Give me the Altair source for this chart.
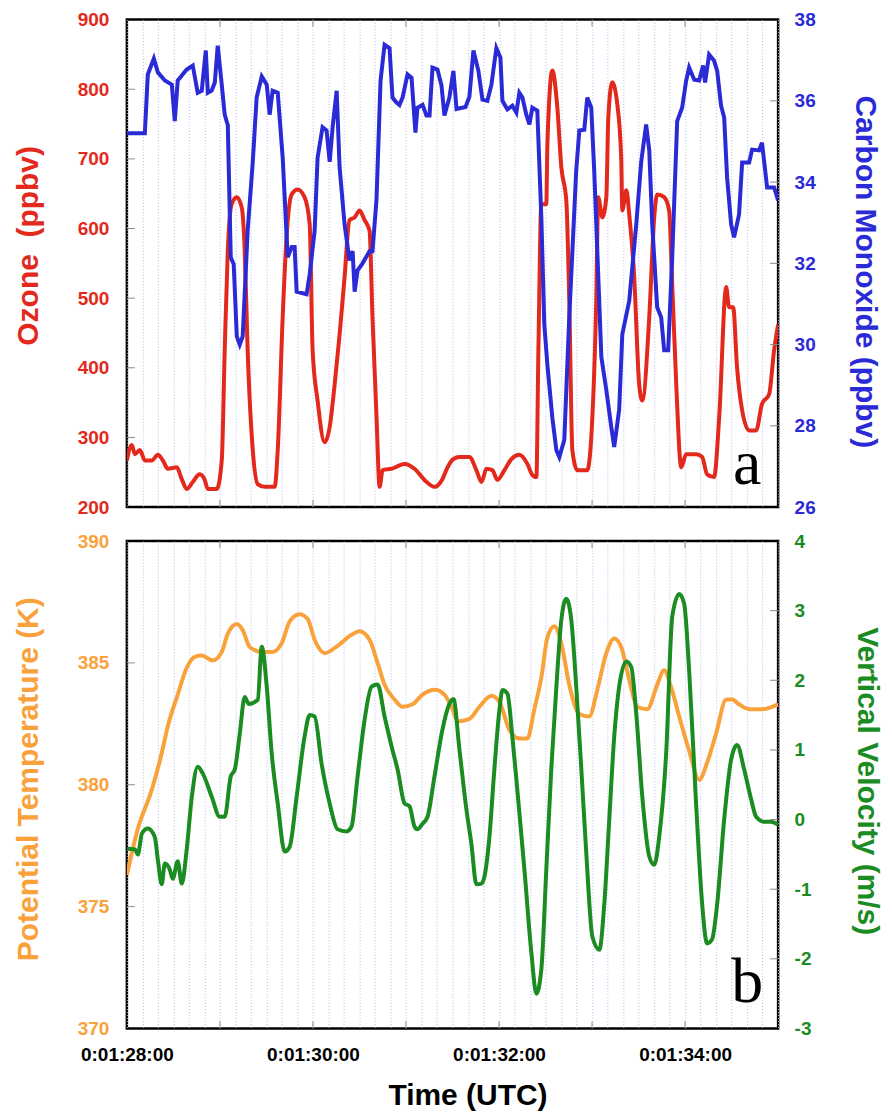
import altair as alt
import pandas as pd

# ---- data (time in seconds after 0:01:28:00) ----
ozone = [(0, 267), (3.2, 289), (5.2, 276), (8.4, 282), (11.6, 267), (16.1, 267), (20.0, 275), (23.2, 267),
         (26.4, 255), (32.2, 257), (35.4, 240), (38.6, 226), (42.5, 236), (47.0, 247), (50.2, 239), (52.2, 226),
         (58.0, 226), (61.2, 267), (63.1, 425), (65.1, 569), (67.6, 635), (70.9, 645), (74.1, 630), (76.0, 569),
         (77.9, 425), (81.2, 282), (84.4, 233), (88.9, 229), (95.3, 229), (97.3, 282), (100.5, 473), (103.1, 592),
         (106.3, 649), (110.1, 656), (114.6, 645), (117.9, 606), (119.8, 425), (123.0, 353), (127.5, 293),
         (130.8, 315), (134.0, 376), (137.2, 448), (140.4, 530), (143.6, 612), (146.9, 616), (150.1, 626),
         (153.3, 612), (156.5, 597), (158.4, 473), (161.0, 329), (163.0, 229), (164.9, 253), (170.7, 255),
         (179.1, 262), (185.5, 255), (191.9, 239), (198.4, 229), (203.5, 240), (206.8, 257), (210.6, 269),
         (214.5, 272), (220.9, 272), (225.4, 253), (228.7, 236), (231.9, 255), (235.7, 253), (239.0, 239),
         (243.5, 253), (248.0, 269), (253.1, 275), (258.3, 262), (261.5, 246), (264.1, 243), (265.4, 425),
         (267.3, 635), (270.5, 635), (271.2, 721), (274.4, 827), (277.6, 774), (280.2, 688), (283.4, 640),
         (285.3, 497), (287.3, 282), (290.5, 253), (296.9, 253), (300.2, 329), (302.7, 497), (304.0, 645),
         (306.6, 616), (309.2, 645), (310.5, 760), (313.0, 810), (316.3, 778), (318.8, 702), (319.5, 626),
         (322.1, 655), (324.0, 620), (327.2, 530), (330.4, 376), (332.4, 353), (336.9, 473), (340.1, 616),
         (342.0, 649), (346.5, 645), (349.7, 626), (351.7, 520), (354.3, 376), (357.5, 257), (360.7, 276),
         (367.1, 276), (371.0, 272), (374.2, 247), (378.7, 243), (382.0, 329), (386.5, 516), (388.4, 487),
         (391.0, 487), (393.5, 401), (396.8, 339), (401.3, 310), (405.8, 310), (409.6, 348), (414.2, 362),
         (417.4, 425), (420.0, 462)]

carbon_monoxide = [(0, 35.2), (11.6, 35.2), (13.5, 36.65), (17.4, 37.04), (20.0, 36.7), (24.5, 36.5), (29.0, 36.4),
                   (30.9, 35.5), (32.8, 36.5), (38.6, 36.77), (42.5, 36.87), (45.7, 36.2), (48.3, 36.25),
                   (50.9, 37.24), (52.2, 36.2), (54.7, 36.25), (56.7, 36.45), (58.6, 37.36), (61.2, 36.4),
                   (63.1, 35.66), (65.1, 35.4), (67.0, 32.15), (68.9, 31.98), (70.9, 30.2), (72.8, 30.0),
                   (74.7, 30.2), (77.9, 32.8), (81.2, 34.5), (83.7, 36.08), (87.0, 36.6), (90.2, 36.4),
                   (92.1, 35.66), (94.0, 36.25), (97.3, 36.2), (100.5, 34.6), (103.7, 32.15), (106.3, 32.4),
                   (108.2, 32.4), (109.5, 31.3), (115.9, 31.24), (117.9, 31.73), (121.1, 32.8), (123.0, 34.6),
                   (126.2, 35.35), (128.8, 35.27), (130.8, 34.5), (132.7, 35.35), (135.3, 36.25), (137.2, 34.36),
                   (140.4, 32.96), (143.6, 32.07), (145.6, 32.3), (146.9, 31.3), (148.8, 31.83), (152.0, 32.0),
                   (156.5, 32.3), (158.4, 32.3), (161.0, 33.57), (163.6, 36.5), (166.2, 37.38), (169.4, 37.3),
                   (171.3, 36.08), (173.9, 35.96), (175.8, 35.9), (177.8, 36.08), (181.0, 36.65), (183.6, 36.57),
                   (186.1, 35.22), (187.4, 35.83), (190.7, 35.9), (193.2, 35.64), (195.2, 35.64), (197.1, 36.82),
                   (200.3, 36.77), (202.9, 36.38), (204.8, 35.64), (208.0, 36.08), (210.6, 36.74), (212.6, 35.8),
                   (218.4, 35.85), (220.9, 36.1), (223.5, 37.24), (226.7, 36.74), (229.3, 36.03), (232.5, 36.0),
                   (235.1, 36.4), (238.3, 37.3), (240.9, 37.07), (242.2, 36.0), (245.4, 35.79), (248.6, 35.88),
                   (251.2, 35.71), (253.1, 36.2), (255.1, 36.08), (257.6, 35.66), (259.6, 35.42), (261.5, 35.83),
                   (264.7, 35.76), (267.3, 33.13), (269.2, 30.5), (271.2, 29.5), (274.4, 28.2), (277.0, 27.4),
                   (278.9, 27.23), (282.1, 27.65), (285.3, 30.67), (289.8, 34.29), (291.8, 35.27), (295.0, 35.29),
                   (296.9, 36.08), (299.5, 35.83), (301.4, 34.29), (306.0, 29.69), (309.2, 28.88), (312.4, 27.97),
                   (314.3, 27.48), (317.5, 28.4), (319.5, 30.25), (324.0, 31.08), (328.5, 32.96), (331.7, 34.5),
                   (334.9, 35.42), (336.9, 34.78), (338.8, 32.96), (342.0, 30.92), (344.6, 30.67), (346.5, 29.86),
                   (349.1, 29.86), (351.7, 32.15), (354.9, 35.5), (358.1, 35.83), (360.7, 36.5), (362.6, 36.82),
                   (365.9, 36.52), (369.1, 36.5), (371.6, 36.87), (372.9, 36.45), (375.5, 37.14), (378.7, 36.99),
                   (380.7, 36.74), (383.2, 35.88), (385.2, 35.59), (387.1, 34.11), (389.7, 32.96), (391.6, 32.64),
                   (394.8, 33.2), (396.8, 34.48), (401.3, 34.48), (403.2, 34.8), (407.7, 34.78), (409.6, 34.97),
                   (412.9, 33.87), (417.4, 33.87), (420.0, 33.55)]

potential_temperature = [(0, 376.3), (7.1, 378.2), (16.1, 379.8), (22.5, 381.3), (26.4, 382.4), (32.8, 383.7),
                         (38.6, 384.8), (43.8, 385.25), (48.3, 385.3), (55.4, 385.1), (61.2, 385.45), (65.1, 386.2),
                         (70.9, 386.6), (74.7, 386.35), (79.2, 385.65), (87.0, 385.45), (94.0, 385.45),
                         (99.8, 385.8), (105.0, 386.7), (111.4, 387.0), (116.6, 386.8), (121.1, 385.95),
                         (127.5, 385.4), (135.9, 385.7), (144.9, 386.15), (150.1, 386.3), (156.5, 385.95),
                         (161.7, 385.0), (166.2, 384.1), (172.6, 383.5), (177.8, 383.2), (184.2, 383.3),
                         (190.7, 383.7), (198.4, 383.9), (204.8, 383.7), (210.0, 383.1), (213.2, 382.6),
                         (220.9, 382.7), (227.4, 383.2), (235.1, 383.65), (240.3, 383.4), (246.7, 382.25),
                         (253.1, 381.9), (258.3, 381.9), (262.8, 383.1), (267.3, 384.4), (271.2, 386.05),
                         (275.7, 386.5), (280.2, 385.8), (285.3, 384.1), (291.8, 382.9), (298.2, 382.8),
                         (303.4, 383.9), (309.2, 385.4), (314.3, 386.0), (318.8, 385.65), (324.0, 384.3),
                         (329.1, 383.2), (335.6, 383.1), (342.0, 384.1), (346.5, 384.7), (351.0, 384.0),
                         (356.2, 382.8), (362.6, 381.4), (369.1, 380.2), (374.2, 380.9), (380.0, 382.1),
                         (386.5, 383.5), (390.3, 383.5), (394.8, 383.3), (401.3, 383.1), (409.6, 383.1),
                         (420.0, 383.3)]

vertical_velocity = [(0, -0.42), (5.2, -0.43), (7.1, -0.5), (9.7, -0.2), (13.5, -0.13), (18.0, -0.25), (20.0, -0.58),
                     (22.5, -0.93), (24.5, -0.63), (27.7, -0.72), (29.6, -0.85), (32.8, -0.6), (35.4, -0.92),
                     (38.6, -0.43), (41.9, 0.33), (45.7, 0.76), (49.0, 0.66), (54.7, 0.33), (59.9, 0.04),
                     (63.1, 0.04), (67.0, 0.62), (69.6, 0.72), (72.8, 1.23), (76.0, 1.76), (78.6, 1.66),
                     (84.4, 1.72), (87.0, 2.48), (90.2, 1.91), (93.4, 0.95), (97.3, 0.23), (101.8, -0.46),
                     (105.0, -0.39), (109.5, 0.33), (114.6, 1.19), (117.9, 1.5), (121.1, 1.48), (125.6, 0.8),
                     (130.8, 0.23), (135.9, -0.14), (141.7, -0.17), (144.9, -0.1), (148.8, 0.62), (153.3, 1.43),
                     (157.8, 1.91), (161.7, 1.94), (166.2, 1.48), (171.3, 1.0), (174.6, 0.72), (179.1, 0.23),
                     (182.3, 0.19), (185.5, -0.1), (187.4, -0.14), (190.7, -0.06), (193.9, 0.04), (198.4, 0.62),
                     (203.5, 1.29), (208.0, 1.66), (210.6, 1.73), (214.5, 1.0), (219.0, 0.14), (222.2, -0.35),
                     (225.4, -0.93), (228.7, -0.92), (230.6, -0.82), (233.8, -0.25), (237.0, 0.72), (240.3, 1.58),
                     (242.2, 1.86), (245.4, 1.81), (248.6, 1.19), (251.8, 0.43), (256.4, -0.72), (260.9, -1.92),
                     (264.1, -2.5), (267.3, -2.15), (270.5, -0.72), (273.7, 0.72), (277.0, 1.91), (280.2, 2.87),
                     (283.4, 3.17), (286.6, 2.87), (289.8, 1.91), (293.1, 0.72), (296.3, -0.49), (300.2, -1.68),
                     (304.7, -1.87), (307.9, -1.21), (311.1, 0.0), (314.3, 1.19), (317.5, 1.91), (322.1, 2.27),
                     (325.3, 2.19), (328.5, 1.52), (332.4, 0.33), (336.9, -0.53), (340.1, -0.65), (343.3, -0.25),
                     (347.8, 0.95), (351.7, 2.91), (356.2, 3.24), (359.4, 3.1), (362.6, 2.15), (367.1, 0.23),
                     (371.0, -1.21), (374.2, -1.78), (377.4, -1.72), (380.7, -1.21), (385.2, 0.0), (389.7, 0.86),
                     (393.5, 1.07), (398.1, 0.72), (402.6, 0.29), (405.8, 0.04), (410.9, -0.03), (415.4, -0.03),
                     (420.0, -0.07)]

x_grid_seconds = list(range(0, 421, 10))
x_label_seconds = [0, 120, 240, 360]
x_labels = ["0:01:28:00", "0:01:30:00", "0:01:32:00", "0:01:34:00"]
minute_ticks = [60, 120, 180, 240, 300, 360]

ozone_ticks = [200, 300, 400, 500, 600, 700, 800, 900]
co_ticks = [26, 28, 30, 32, 34, 36, 38]
theta_ticks = [370, 375, 380, 385, 390]
w_ticks = [-3, -2, -1, 0, 1, 2, 3, 4]

panel_a = [(400, 233, "a")]
panel_b = [(400, 371.1, "b")]

# ---- styling ----
W, H = 652, 488
RED, BLUE, ORANGE, GREEN = "#e2291c", "#2a2ad6", "#f9a23c", "#1b8c22"
FONT = "Liberation Sans"
XSCALE = alt.Scale(domain=[0, 420], nice=False, zero=False)


def frame(pairs):
    return pd.DataFrame(pairs, columns=["t", "v"])


def label_expr():
    parts = [f"datum.value == {v} ? '{l}'" for v, l in zip(x_label_seconds, x_labels)]
    return " : ".join(parts) + " : ''"


def x_axis(show_labels):
    common = dict(values=x_grid_seconds, grid=True, gridColor="#b9b9f2", gridDash=[1, 2], gridWidth=1,
                  ticks=False, domain=False, labelOverlap=False, labelFlush=False)
    if show_labels:
        return alt.Axis(labels=True, labelExpr=label_expr(), labelFont=FONT, labelFontSize=19,
                        labelFontWeight="bold", labelColor="black", labelPadding=17,
                        title="Time (UTC)", titleFont=FONT, titleFontSize=30, titleFontWeight="bold",
                        titleColor="black", titlePadding=16, titleX=341, **common)
    return alt.Axis(labels=False, title="", **common)


def y_axis(orient, ticks, color, title, label_pad, title_pad, title_y):
    return alt.Axis(orient=orient, values=ticks, ticks=False, domain=False, grid=False,
                    labelFont=FONT, labelFontSize=19, labelFontWeight="bold", labelColor=color,
                    labelPadding=label_pad, labelFlush=False, labelOverlap=False,
                    labelExpr="'' + datum.value",
                    title=title, titleFont=FONT, titleFontSize=30, titleFontWeight="bold",
                    titleColor=color, titlePadding=title_pad, titleY=title_y)


def panel(left_data, left_ticks, left_color, left_title, left_interp, left_ty,
          right_data, right_ticks, right_color, right_title, right_interp, right_tpad, right_ty,
          letter_item, show_x_labels):
    lscale = alt.Scale(domain=[left_ticks[0], left_ticks[-1]], nice=False, zero=False)
    rscale = alt.Scale(domain=[right_ticks[0], right_ticks[-1]], nice=False, zero=False)
    xax = x_axis(show_x_labels)
    lax = y_axis("left", left_ticks, left_color, left_title, 18, 34, left_ty)
    rax = y_axis("right", right_ticks, right_color, right_title, 16, right_tpad, right_ty)

    def X():
        return alt.X("t:Q", scale=XSCALE, axis=xax)

    def YL():
        return alt.Y("v:Q", scale=lscale, axis=lax)

    def YR():
        return alt.Y("v:Q", scale=rscale, axis=rax)

    left_line = alt.Chart(frame(left_data)).mark_line(
        color=left_color, strokeWidth=4, interpolate=left_interp, clip=True).encode(x=X(), y=YL())
    right_line = alt.Chart(frame(right_data)).mark_line(
        color=right_color, strokeWidth=4, interpolate=right_interp, clip=True).encode(x=X(), y=YR())

    lt = alt.Chart(pd.DataFrame({"v": left_ticks[1:-1]})).mark_rule(color="#888888", strokeWidth=1).encode(
        y=YL(), x=alt.value(0), x2=alt.value(8))
    rt = alt.Chart(pd.DataFrame({"v": right_ticks[1:-1]})).mark_rule(color="#888888", strokeWidth=1).encode(
        y=YR(), x=alt.value(W - 8), x2=alt.value(W))
    mdf = pd.DataFrame({"t": minute_ticks})
    mt_top = alt.Chart(mdf).mark_rule(color="#888888", strokeWidth=1).encode(
        x=X(), y=alt.value(0), y2=alt.value(7))
    mt_bot = alt.Chart(mdf).mark_rule(color="#888888", strokeWidth=1).encode(
        x=X(), y=alt.value(H - 7), y2=alt.value(H))
    let = alt.Chart(pd.DataFrame(letter_item, columns=["t", "v", "s"])).mark_text(
        font="Liberation Serif", fontSize=64, align="center", baseline="alphabetic", color="black").encode(
        x=X(), y=YL(), text="s:N")

    left_layer = alt.layer(left_line, lt, mt_top, mt_bot, let)
    right_layer = alt.layer(right_line, rt)
    return alt.layer(left_layer, right_layer).resolve_scale(y="independent").properties(width=W, height=H)


top = panel(ozone, ozone_ticks, RED, "Ozone\u00a0 (ppbv)", "monotone", 226,
            carbon_monoxide, co_ticks, BLUE, "Carbon Monoxide (ppbv)", "linear", 34, 252,
            panel_a, False)
bottom = panel(potential_temperature, theta_ticks, ORANGE, "Potential Temperature (K)", "monotone", 238,
               vertical_velocity, w_ticks, GREEN, "Vertical Velocity (m/s)", "monotone", 41, 240,
               panel_b, True)

chart = alt.vconcat(top, bottom, spacing=11).properties(
    padding={"left": 4, "top": 0, "right": 0, "bottom": 0}
).configure_view(stroke="black", strokeWidth=2.5)

chart.save("out.html", embed_options={"renderer": "svg", "actions": False})
